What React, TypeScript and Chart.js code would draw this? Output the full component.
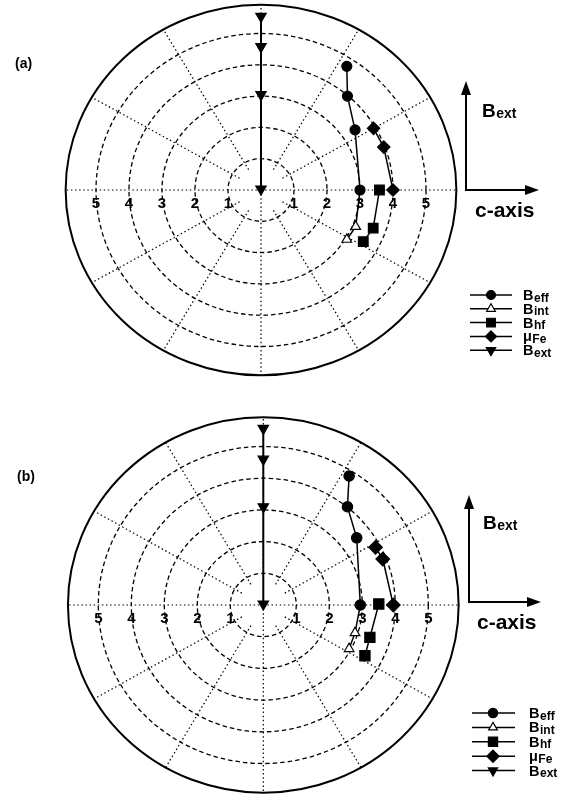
import React, { useEffect, useRef } from "react";
import { Chart, registerables } from "chart.js";
Chart.register(...registerables);

// ---- polar grid ----
const RING_VALUES = [1, 2, 3, 4, 5];
const TICK_LABELS = ["1", "2", "3", "4", "5"];
const OUTER_RING = 5.92;
const SPOKE_ANGLES_DEG = [0, 30, 60, 90, 120, 150, 180, 210, 240, 270, 300, 330];

// ---- series names: [main, subscript] ----
const SERIES_NAMES: [string, string][] = [
  ["B", "eff"],
  ["B", "int"],
  ["B", "hf"],
  ["\u03bc", "Fe"],
  ["B", "ext"],
];

// ---- panel (a): [c-axis component, Bext-direction component] ----
const A_BEFF = [[2.6, 3.95], [2.62, 3.0], [2.85, 1.92], [3.0, 0]];
const A_BINT = [[3.0, 0], [2.87, -1.17], [2.6, -1.58]];
const A_BHF = [[3.59, 0], [3.4, -1.22], [3.1, -1.65]];
const A_MUFE = [[4.0, 0], [3.72, 1.37], [3.41, 1.97]];
const A_BEXT = [[0, 5.55], [0, 4.58], [0, 3.05], [0, 0.03]];

// ---- panel (b) ----
const B_BEFF = [[2.6, 4.07], [2.55, 3.1], [2.83, 2.12], [2.94, 0]];
const B_BINT = [[2.94, 0], [2.78, -0.88], [2.6, -1.38]];
const B_BHF = [[3.5, 0.03], [3.23, -1.02], [3.08, -1.6]];
const B_MUFE = [[3.94, 0], [3.62, 1.45], [3.4, 1.82]];
const B_BEXT = [[0, 5.57], [0, 4.6], [0, 3.1], [0, 0.03]];

const FONT = '"Liberation Sans", Arial, Helvetica, sans-serif';

type MarkerStyle = { style: string; radius: number; fill: string; rotation: number; lineWidth: number };

const MARKERS_A: MarkerStyle[] = [
  { style: "circle", radius: 5, fill: "#000", rotation: 0, lineWidth: 1.5 },
  { style: "triangle", radius: 5.6, fill: "#fff", rotation: 0, lineWidth: 1.5 },
  { style: "rect", radius: 6.8, fill: "#000", rotation: 0, lineWidth: 1.5 },
  { style: "rectRot", radius: 6.2, fill: "#000", rotation: 0, lineWidth: 1.5 },
  { style: "triangle", radius: 6, fill: "#000", rotation: 180, lineWidth: 2 },
];
const MARKERS_B: MarkerStyle[] = [
  { style: "circle", radius: 5.2, fill: "#000", rotation: 0, lineWidth: 1.5 },
  { style: "triangle", radius: 5.6, fill: "#fff", rotation: 0, lineWidth: 1.5 },
  { style: "rect", radius: 7.2, fill: "#000", rotation: 0, lineWidth: 1.5 },
  { style: "rectRot", radius: 6.8, fill: "#000", rotation: 0, lineWidth: 1.5 },
  { style: "triangle", radius: 6, fill: "#000", rotation: 180, lineWidth: 2 },
];

type Layout = {
  label: string;
  labelPos: [number, number];
  arrowOrigin: [number, number];
  arrowUpTip: number;
  arrowRightTip: number;
  bextPos: [number, number];
  caxisPos: [number, number];
  legendX: [number, number, number, number]; // line start, marker, line end, text
  legendY0: number;
  legendDy: number;
  view: { xMin: number; xMax: number; yMin: number; yMax: number };
};

const LAYOUT_A: Layout = {
  label: "(a)",
  labelPos: [15, 68],
  arrowOrigin: [466, 190],
  arrowUpTip: 81,
  arrowRightTip: 539,
  bextPos: [482, 117],
  caxisPos: [475, 217],
  legendX: [470, 491, 512, 523],
  legendY0: 295,
  legendDy: 13.8,
  view: { xMin: -261 / 33, xMax: 312 / 33, yMin: -210 / 31.3, yMax: 190 / 31.3 },
};
const LAYOUT_B: Layout = {
  label: "(b)",
  labelPos: [17, 81],
  arrowOrigin: [469, 202],
  arrowUpTip: 95,
  arrowRightTip: 541,
  bextPos: [483, 129],
  caxisPos: [477, 229],
  legendX: [472, 493, 515, 529],
  legendY0: 313,
  legendDy: 14.4,
  view: { xMin: -263.3 / 33, xMax: 309.7 / 33, yMin: -194 / 31.7, yMax: 205 / 31.7 },
};

function drawMarker(ctx: CanvasRenderingContext2D, m: MarkerStyle, x: number, y: number) {
  const r = m.radius;
  ctx.beginPath();
  if (m.style === "circle") {
    ctx.arc(x, y, r, 0, Math.PI * 2);
  } else if (m.style === "triangle") {
    let a = (m.rotation * Math.PI) / 180;
    for (let k = 0; k < 3; k++) {
      const px = x + Math.sin(a) * r;
      const py = y - Math.cos(a) * r;
      if (k === 0) ctx.moveTo(px, py);
      else ctx.lineTo(px, py);
      a += (2 * Math.PI) / 3;
    }
    ctx.closePath();
  } else if (m.style === "rect") {
    const s = r * Math.SQRT1_2;
    ctx.rect(x - s, y - s, 2 * s, 2 * s);
  } else {
    ctx.moveTo(x, y - r);
    ctx.lineTo(x + r, y);
    ctx.lineTo(x, y + r);
    ctx.lineTo(x - r, y);
    ctx.closePath();
  }
  ctx.fillStyle = m.fill;
  ctx.fill();
  ctx.lineWidth = 1.2;
  ctx.strokeStyle = "#000";
  ctx.stroke();
}

function drawSubText(
  ctx: CanvasRenderingContext2D,
  main: string,
  sub: string,
  x: number,
  y: number,
  mainSize: number,
  subSize: number,
  drop: number
) {
  ctx.fillStyle = "#000";
  ctx.textAlign = "left";
  ctx.textBaseline = "alphabetic";
  ctx.font = `bold ${mainSize}px ${FONT}`;
  ctx.fillText(main, x, y);
  const w = ctx.measureText(main).width;
  ctx.font = `bold ${subSize}px ${FONT}`;
  ctx.fillText(sub, x + w + 0.5, y + drop);
}

function arrowHead(ctx: CanvasRenderingContext2D, tx: number, ty: number, dir: "up" | "right") {
  ctx.beginPath();
  if (dir === "up") {
    ctx.moveTo(tx, ty);
    ctx.lineTo(tx - 5, ty + 14);
    ctx.lineTo(tx + 5, ty + 14);
  } else {
    ctx.moveTo(tx, ty);
    ctx.lineTo(tx - 14, ty - 5);
    ctx.lineTo(tx - 14, ty + 5);
  }
  ctx.closePath();
  ctx.fillStyle = "#000";
  ctx.fill();
}

function makePlugin(layout: Layout, markers: MarkerStyle[]) {
  return {
    id: "polarDecor",
    beforeDatasetsDraw(chart: any) {
      const ctx: CanvasRenderingContext2D = chart.ctx;
      const xs = chart.scales.x;
      const ys = chart.scales.y;
      const cx = xs.getPixelForValue(0);
      const cy = ys.getPixelForValue(0);
      const kx = xs.getPixelForValue(1) - cx;
      const ky = cy - ys.getPixelForValue(1);
      ctx.save();
      ctx.strokeStyle = "#000";
      // spokes (dotted)
      ctx.lineWidth = 1.2;
      ctx.setLineDash([1.5, 2.6]);
      SPOKE_ANGLES_DEG.forEach((deg) => {
        const a = (deg * Math.PI) / 180;
        const axis = deg % 90 === 0;
        const r0 = axis ? 0 : 0.75;
        ctx.beginPath();
        ctx.moveTo(cx + Math.cos(a) * r0 * kx, cy - Math.sin(a) * r0 * ky);
        ctx.lineTo(cx + Math.cos(a) * OUTER_RING * kx, cy - Math.sin(a) * OUTER_RING * ky);
        ctx.stroke();
      });
      // rings (dashed)
      ctx.lineWidth = 1.3;
      ctx.setLineDash([4.5, 3]);
      RING_VALUES.forEach((r) => {
        ctx.beginPath();
        ctx.ellipse(cx, cy, r * kx, r * ky, 0, 0, Math.PI * 2);
        ctx.stroke();
      });
      // outer solid ring
      ctx.setLineDash([]);
      ctx.lineWidth = 2;
      ctx.beginPath();
      ctx.ellipse(cx, cy, OUTER_RING * kx, OUTER_RING * ky, 0, 0, Math.PI * 2);
      ctx.stroke();
      // tick labels
      ctx.fillStyle = "#000";
      ctx.font = `bold 15px ${FONT}`;
      ctx.textAlign = "center";
      ctx.textBaseline = "middle";
      RING_VALUES.forEach((r, i) => {
        ctx.fillText(TICK_LABELS[i], xs.getPixelForValue(r), cy + 13.5);
        ctx.fillText(TICK_LABELS[i], xs.getPixelForValue(-r), cy + 13.5);
      });
      ctx.restore();
    },
    afterDraw(chart: any) {
      const ctx: CanvasRenderingContext2D = chart.ctx;
      ctx.save();
      // panel label
      ctx.fillStyle = "#000";
      ctx.font = `bold 14px ${FONT}`;
      ctx.textAlign = "left";
      ctx.textBaseline = "alphabetic";
      ctx.fillText(layout.label, layout.labelPos[0], layout.labelPos[1]);
      // direction arrows
      const [ox, oy] = layout.arrowOrigin;
      ctx.strokeStyle = "#000";
      ctx.lineWidth = 2;
      ctx.beginPath();
      ctx.moveTo(ox, layout.arrowUpTip + 10);
      ctx.lineTo(ox, oy);
      ctx.lineTo(layout.arrowRightTip - 10, oy);
      ctx.stroke();
      arrowHead(ctx, ox, layout.arrowUpTip, "up");
      arrowHead(ctx, layout.arrowRightTip, oy, "right");
      drawSubText(ctx, "B", "ext", layout.bextPos[0], layout.bextPos[1], 19, 14, 0.5);
      ctx.font = `bold 21px ${FONT}`;
      ctx.fillStyle = "#000";
      ctx.fillText("c-axis", layout.caxisPos[0], layout.caxisPos[1]);
      // legend
      const [l0, lm, l1, lt] = layout.legendX;
      SERIES_NAMES.forEach((name, i) => {
        const y = layout.legendY0 + i * layout.legendDy;
        ctx.strokeStyle = "#000";
        ctx.lineWidth = 1.5;
        ctx.beginPath();
        ctx.moveTo(l0, y);
        ctx.lineTo(l1, y);
        ctx.stroke();
        const m = markers[i];
        drawMarker(ctx, { ...m, radius: m.radius * 0.9 }, lm, y);
        drawSubText(ctx, name[0], name[1], lt, y + 5, 14.5, 12, 1.5);
      });
      ctx.restore();
    },
  };
}

function toPoints(arr: number[][]) {
  return arr.map(([x, y]) => ({ x, y }));
}

function buildDatasets(series: number[][][], markers: MarkerStyle[]) {
  return series.map((s, i) => {
    const m = markers[i];
    return {
      label: SERIES_NAMES[i].join(""),
      data: toPoints(s),
      showLine: true,
      borderColor: "#000",
      borderWidth: m.lineWidth,
      backgroundColor: m.fill,
      pointStyle: m.style,
      pointRotation: m.rotation,
      pointRadius: i === 1 ? (c: any) => (c.dataIndex === 0 ? 0 : m.radius) : m.radius,
      pointBorderColor: "#000",
      pointBorderWidth: 1.2,
      pointBackgroundColor: m.fill,
      tension: 0,
      fill: false,
      clip: false,
    };
  });
}

function PolarPanel({ series, markers, layout, height }: { series: number[][][]; markers: MarkerStyle[]; layout: Layout; height: number }) {
  const ref = useRef<HTMLCanvasElement | null>(null);
  useEffect(() => {
    if (!ref.current) return;
    const chart = new Chart(ref.current, {
      type: "scatter",
      data: { datasets: buildDatasets(series, markers) as any },
      options: {
        responsive: false,
        animation: false,
        devicePixelRatio: 1,
        layout: { padding: 0, autoPadding: false },
        events: [],
        plugins: { legend: { display: false }, tooltip: { enabled: false }, title: { display: false } },
        scales: {
          x: { type: "linear", display: false, min: layout.view.xMin, max: layout.view.xMax },
          y: { type: "linear", display: false, min: layout.view.yMin, max: layout.view.yMax },
        },
      } as any,
      plugins: [makePlugin(layout, markers)],
    });
    return () => chart.destroy();
  }, []);
  return <canvas ref={ref} width={573} height={height} style={{ display: "block", width: 573, height }} />;
}

export default function App() {
  return (
    <div style={{ position: "absolute", left: 0, top: 0, width: 573, height: 799, background: "#fff" }}>
      <div style={{ position: "absolute", left: 0, top: 0 }}>
        <PolarPanel series={[A_BEFF, A_BINT, A_BHF, A_MUFE, A_BEXT]} markers={MARKERS_A} layout={LAYOUT_A} height={400} />
      </div>
      <div style={{ position: "absolute", left: 0, top: 400 }}>
        <PolarPanel series={[B_BEFF, B_BINT, B_BHF, B_MUFE, B_BEXT]} markers={MARKERS_B} layout={LAYOUT_B} height={399} />
      </div>
    </div>
  );
}
